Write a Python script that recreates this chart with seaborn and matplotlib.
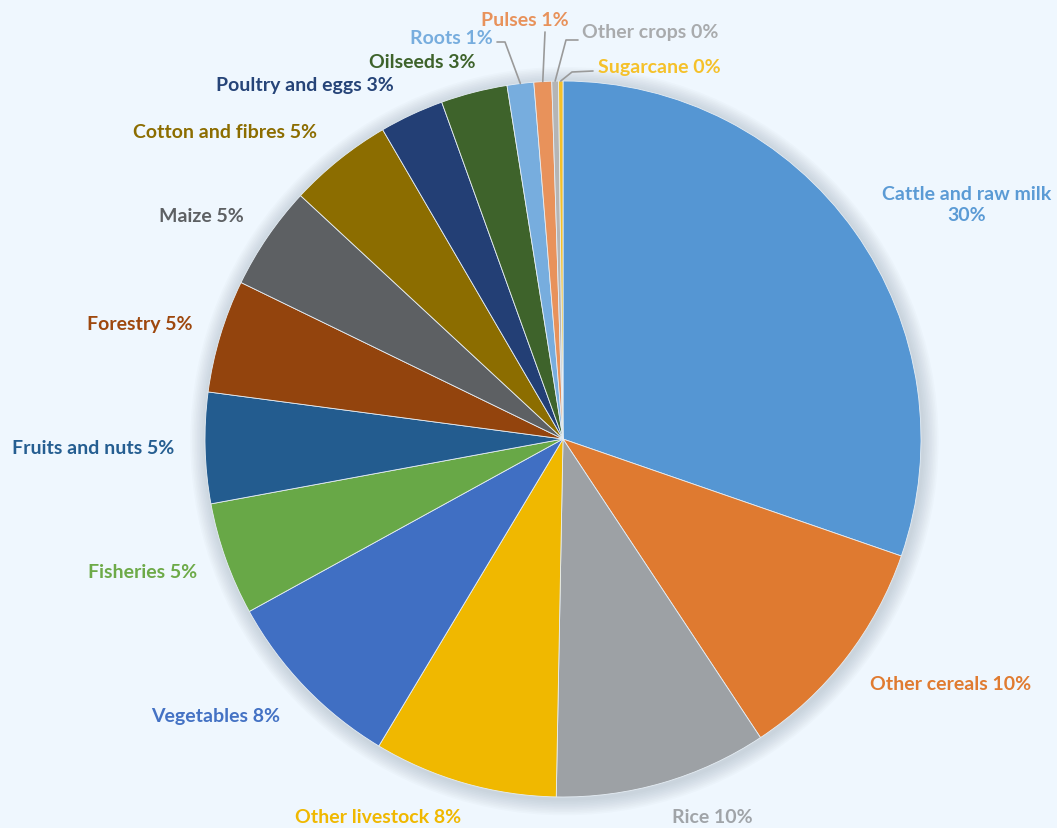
import numpy as np
import matplotlib
matplotlib.use("Agg")
import matplotlib.pyplot as plt
import seaborn as sns
from matplotlib.patches import Circle

# ---- data ----
categories = ["Cattle and raw milk", "Other cereals", "Rice", "Other livestock",
              "Vegetables", "Fisheries", "Fruits and nuts", "Forestry", "Maize",
              "Cotton and fibres", "Poultry and eggs", "Oilseeds", "Roots",
              "Pulses", "Other crops", "Sugarcane"]
shares = [30.3, 10.4, 9.6, 8.3, 8.4, 5.1, 5.0, 5.1, 4.7, 4.7, 2.9, 3.0, 1.2, 0.8, 0.3, 0.2]

# ---- styles ----
slice_colors = ["#5596D3", "#DF7A30", "#9DA1A5", "#F0B800", "#406FC3", "#68A847",
                "#235C8F", "#93440D", "#5D6063", "#8C6D00", "#233F75", "#3E632B",
                "#77ADDE", "#E8925B", "#B5B5B5", "#F5C12A"]
label_colors = ["#5B9BD5", "#E07B30", "#A0A4A8", "#F0B800", "#4472C4", "#6DAA48",
                "#255E91", "#9E480E", "#5D6063", "#8C6D00", "#264478", "#3E632B",
                "#77ADDE", "#E8925B", "#A9ABAD", "#F5C12A"]
BG = "#EFF7FE"

W, H = 1057, 829
CX, CY, R = 563, 440, 358   # pie centre / radius in pixels

# label anchor positions (pixels, text centres) -- layout only
label_px = [(967, 205), (951, 685), (712, 818), (378, 818), (216, 717), (143, 573),
            (93, 449), (140, 325), (201, 217), (225, 133), (305, 86), (422, 62),
            (451, 38), (525, 20), (650, 33), (659, 67)]
# leader-line elbow points (pixels) for the tiny slices
leaders = {12: [(505, 43), (497, 43)],
           13: [(545, 33)],
           14: [(566, 41), (578, 41)],
           15: [(572, 73), (593, 72)]}


def px2d(p):
    return ((p[0] - CX) / R, (CY - p[1]) / R)


sns.set_theme(style="white")
plt.rcParams["font.family"] = ["Lato", "DejaVu Sans"]

fig = plt.figure(figsize=(W / 100, H / 100), dpi=100, facecolor=BG)
ax = fig.add_axes([0, 0, 1, 1])
ax.set_facecolor(BG)

# soft shadow
for k in range(10, 0, -1):
    ax.add_patch(Circle((0.004, -0.006), 1 + k * 0.0045, color="#8090A0",
                        alpha=0.035, lw=0, zorder=0))

wedges, _ = ax.pie(shares, colors=slice_colors, startangle=90, counterclock=False,
                   radius=1, center=(0, 0), normalize=True,
                   wedgeprops=dict(edgecolor="#E6EEF5", linewidth=0.6), frame=True)
ax.set_xlim(-CX / R, (W - CX) / R)
ax.set_ylim(-(H - CY) / R, CY / R)
ax.set_aspect("auto")
ax.axis("off")

for i, (cat, val) in enumerate(zip(categories, shares)):
    pct = f"{val:.0f}%"
    txt = f"{cat}\n{pct}" if i == 0 else f"{cat} {pct}"
    x, y = px2d(label_px[i])
    ax.text(x, y, txt, ha="center", va="center", fontsize=14, fontweight="bold",
            color=label_colors[i], linespacing=1.35, zorder=5)
    if i in leaders:
        w = wedges[i]
        th = np.deg2rad((w.theta1 + w.theta2) / 2)
        pts = [(np.cos(th), np.sin(th))] + [px2d(p) for p in leaders[i]]
        xs, ys = zip(*pts)
        ax.plot(xs, ys, color="#9A9A9A", lw=1.2, zorder=4)

fig.savefig("out.png", dpi=100, facecolor=BG)
